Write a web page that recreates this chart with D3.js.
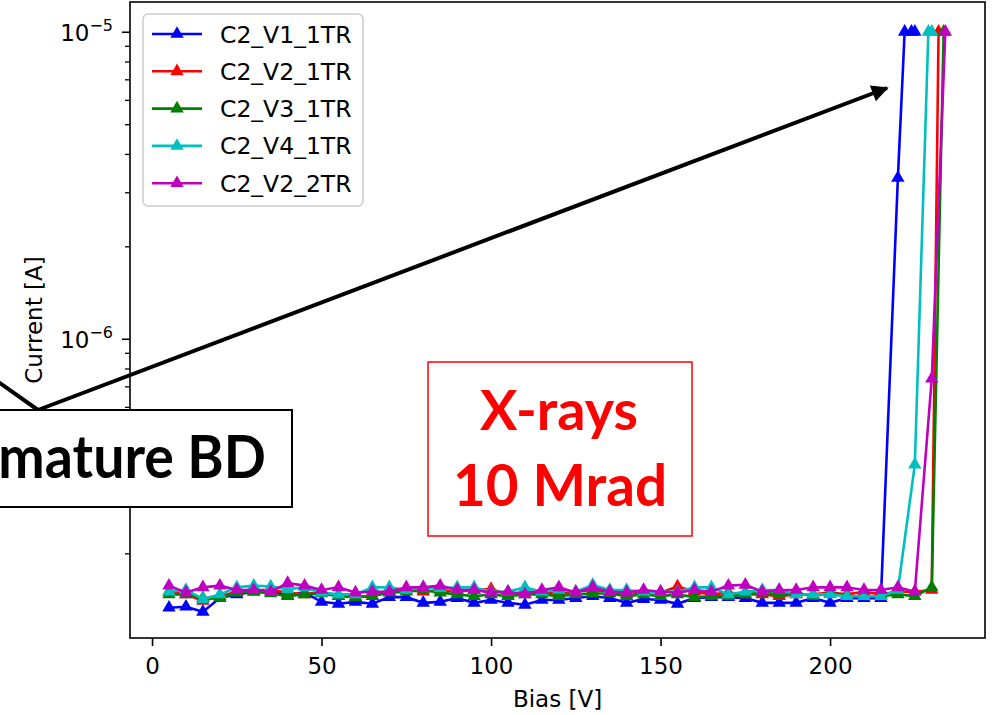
<!DOCTYPE html>
<html>
<head>
<meta charset="utf-8">
<script src="https://cdn.jsdelivr.net/npm/d3@7"></script>
<style>
  body { margin: 0; background: #fff; }
  svg { display: block; font-family: "DejaVu Sans", sans-serif; }
</style>
</head>
<body>
<svg id="svg" width="992" height="715"></svg>
<script>
// currents are in units of 1e-7 A
const UNIT = 1e-7;
const biasSteps = [5, 10, 15, 20, 25, 30, 35, 40, 45, 50, 55, 60, 65, 70, 75, 80, 85, 90, 95, 100,
  105, 110, 115, 120, 125, 130, 135, 140, 145, 150, 155, 160, 165, 170, 175, 180, 185, 190, 195, 200,
  205, 210, 215, 220, 225, 230];

const blueBias = biasSteps.slice(0, 44).concat([222, 224, 225]);
const blueCurrent = [1.33, 1.34, 1.29, 1.43, 1.47, 1.50, 1.52, 1.46, 1.49, 1.39,
  1.37, 1.39, 1.37, 1.44, 1.44, 1.38, 1.39, 1.43, 1.38, 1.41,
  1.38, 1.36, 1.41, 1.41, 1.43, 1.45, 1.43, 1.38, 1.42, 1.41,
  1.37, 1.43, 1.44, 1.44, 1.43, 1.38, 1.38, 1.38, 1.43, 1.38,
  1.43, 1.43, 1.43, 33.4, 100, 100, 100];

const redBias = biasSteps.concat([232]);
const redCurrent = [1.50, 1.47, 1.40, 1.45, 1.50, 1.52, 1.52, 1.49, 1.47, 1.50,
  1.45, 1.44, 1.45, 1.50, 1.52, 1.50, 1.52, 1.50, 1.52, 1.53,
  1.47, 1.50, 1.50, 1.47, 1.50, 1.52, 1.50, 1.47, 1.50, 1.49,
  1.56, 1.50, 1.47, 1.49, 1.47, 1.47, 1.45, 1.47, 1.47, 1.49,
  1.47, 1.50, 1.47, 1.50, 1.50, 1.52, 100];

const greenBias = biasSteps.concat([233.5]);
const greenCurrent = [1.47, 1.47, 1.43, 1.43, 1.49, 1.50, 1.48, 1.45, 1.47, 1.48,
  1.45, 1.44, 1.45, 1.49, 1.50, 1.52, 1.49, 1.47, 1.45, 1.47,
  1.45, 1.47, 1.47, 1.45, 1.47, 1.48, 1.48, 1.45, 1.47, 1.45,
  1.47, 1.44, 1.45, 1.45, 1.47, 1.49, 1.47, 1.49, 1.45, 1.49,
  1.45, 1.45, 1.45, 1.47, 1.45, 1.55, 100];

const cyanBias = biasSteps.slice(0, 45).concat([229, 230]);
const cyanCurrent = [1.50, 1.52, 1.42, 1.47, 1.55, 1.57, 1.56, 1.53, 1.55, 1.49,
  1.47, 1.47, 1.55, 1.55, 1.52, 1.55, 1.54, 1.55, 1.55, 1.50,
  1.50, 1.55, 1.50, 1.52, 1.50, 1.58, 1.52, 1.52, 1.50, 1.50,
  1.50, 1.55, 1.55, 1.47, 1.50, 1.52, 1.52, 1.47, 1.47, 1.47,
  1.45, 1.45, 1.45, 1.52, 3.89, 100, 100];

const magentaBias = biasSteps.concat([234]);
const magentaCurrent = [1.57, 1.49, 1.55, 1.57, 1.52, 1.52, 1.50, 1.60, 1.57, 1.52,
  1.55, 1.49, 1.50, 1.50, 1.55, 1.55, 1.57, 1.52, 1.52, 1.49,
  1.50, 1.47, 1.52, 1.55, 1.49, 1.55, 1.50, 1.49, 1.52, 1.50,
  1.49, 1.52, 1.50, 1.57, 1.58, 1.50, 1.52, 1.52, 1.55, 1.55,
  1.55, 1.52, 1.52, 1.55, 1.50, 7.41, 100];

const seriesNames = ["C2_V1_1TR", "C2_V2_1TR", "C2_V3_1TR", "C2_V4_1TR", "C2_V2_2TR"];
const seriesColors = ["#0000ff", "#ff0000", "#008000", "#00bfbf", "#bf00bf"];
const seriesBias = [blueBias, redBias, greenBias, cyanBias, magentaBias];
const seriesCurrent = [blueCurrent, redCurrent, greenCurrent, cyanCurrent, magentaCurrent];

const xTicks = [0, 50, 100, 150, 200];
const yMajorTicks = [1e-6, 1e-5];
const yMajorExp = ["\u22126", "\u22125"];
const yMinorTicks = [2e-7, 3e-7, 4e-7, 5e-7, 6e-7, 7e-7, 8e-7, 9e-7,
  2e-6, 3e-6, 4e-6, 5e-6, 6e-6, 7e-6, 8e-6, 9e-6];

const svg = d3.select("#svg");
const plotLeft = 130, plotRight = 985, plotTop = 2, plotBottom = 638;

const x = d3.scaleLinear().domain([-6.5, 245.7]).range([plotLeft, plotRight]);
const y = d3.scaleLog().domain([1.06e-7, 1.25e-5]).range([plotBottom, plotTop]);

const tickFont = 23;

// x axis
const xAxis = svg.append("g")
  .attr("transform", `translate(0, ${plotBottom})`)
  .call(d3.axisBottom(x).tickValues(xTicks).tickSize(8).tickPadding(12).tickFormat(d3.format("d")));
xAxis.select(".domain").remove();
xAxis.selectAll("line").attr("stroke", "#000").attr("stroke-width", 1.6);
xAxis.selectAll("text").attr("font-size", tickFont).attr("fill", "#000")
  .attr("font-family", "DejaVu Sans");

// y axis, major + minor
const yMinor = svg.append("g")
  .attr("transform", `translate(${plotLeft}, 0)`)
  .call(d3.axisLeft(y).tickValues(yMinorTicks).tickSize(5).tickFormat(""));
yMinor.select(".domain").remove();
yMinor.selectAll("line").attr("stroke", "#000").attr("stroke-width", 1.3);

const yMajor = svg.append("g")
  .attr("transform", `translate(${plotLeft}, 0)`)
  .call(d3.axisLeft(y).tickValues(yMajorTicks).tickSize(8).tickFormat(""));
yMajor.select(".domain").remove();
yMajor.selectAll("line").attr("stroke", "#000").attr("stroke-width", 1.6);
yMajor.selectAll(".tick").each(function(d, i) {
  const t = d3.select(this).append("text")
    .attr("x", -17)
    .attr("y", 9)
    .attr("text-anchor", "end")
    .attr("fill", "#000")
    .attr("font-family", "DejaVu Sans")
    .attr("font-size", tickFont);
  t.append("tspan").text("10");
  t.append("tspan").attr("dy", -10).attr("font-size", 16).text(yMajorExp[i]);
});

// data
const line = d3.line().x(d => x(d[0])).y(d => y(d[1] * UNIT));
const tri = d3.symbol().type(d3.symbolTriangle).size(78);

seriesNames.forEach((name, i) => {
  const pts = seriesBias[i].map((b, k) => [b, seriesCurrent[i][k]]);
  const g = svg.append("g");
  g.append("path")
    .datum(pts)
    .attr("d", line)
    .attr("fill", "none")
    .attr("stroke", seriesColors[i])
    .attr("stroke-width", 2.6);
  g.selectAll("path.m")
    .data(pts)
    .join("path")
    .attr("class", "m")
    .attr("d", tri)
    .attr("transform", d => `translate(${x(d[0])}, ${y(d[1] * UNIT)})`)
    .attr("fill", seriesColors[i]);
});

// frame
svg.append("rect")
  .attr("x", plotLeft).attr("y", plotTop)
  .attr("width", plotRight - plotLeft).attr("height", plotBottom - plotTop)
  .attr("fill", "none").attr("stroke", "#000").attr("stroke-width", 1.6);

// axis labels
svg.append("text")
  .attr("x", (plotLeft + plotRight) / 2).attr("y", 707)
  .attr("text-anchor", "middle")
  .attr("font-size", tickFont)
  .text("Bias [V]");
svg.append("text")
  .attr("transform", `translate(42, ${(plotTop + plotBottom) / 2}) rotate(-90)`)
  .attr("text-anchor", "middle")
  .attr("font-size", tickFont)
  .text("Current [A]");

// legend
const legend = svg.append("g");
legend.append("rect")
  .attr("x", 143).attr("y", 14).attr("width", 220).attr("height", 192)
  .attr("rx", 5)
  .attr("fill", "#fff").attr("fill-opacity", 0.8)
  .attr("stroke", "#cccccc").attr("stroke-width", 1.5);
seriesNames.forEach((name, i) => {
  const cy = 34 + i * 37.3;
  legend.append("line")
    .attr("x1", 152).attr("x2", 202).attr("y1", cy).attr("y2", cy)
    .attr("stroke", seriesColors[i]).attr("stroke-width", 2.6);
  legend.append("path")
    .attr("d", tri)
    .attr("transform", `translate(177, ${cy})`)
    .attr("fill", seriesColors[i]);
  legend.append("text")
    .attr("x", 220).attr("y", cy + 8.5)
    .attr("font-size", 23.5)
    .text(name);
});

// annotations
const defs = svg.append("defs");
defs.append("marker")
  .attr("id", "head")
  .attr("viewBox", "0 0 10 10")
  .attr("refX", 9).attr("refY", 5)
  .attr("markerWidth", 5).attr("markerHeight", 4.2)
  .attr("markerUnits", "strokeWidth")
  .attr("orient", "auto")
  .append("path").attr("d", "M0,0 L10,5 L0,10 z").attr("fill", "#000");

svg.append("line")
  .attr("x1", -10).attr("y1", 376).attr("x2", 38).attr("y2", 410)
  .attr("stroke", "#000").attr("stroke-width", 4);
svg.append("line")
  .attr("x1", 38).attr("y1", 410).attr("x2", 887).attr("y2", 88)
  .attr("stroke", "#000").attr("stroke-width", 4)
  .attr("marker-end", "url(#head)");

svg.append("rect")
  .attr("x", -10).attr("y", 410).attr("width", 302).attr("height", 97)
  .attr("fill", "#fff").attr("stroke", "#000").attr("stroke-width", 2);
svg.append("text")
  .attr("x", 266 - 351).attr("y", 478)
  .attr("font-family", "Lato, Liberation Sans, sans-serif")
  .attr("font-weight", "bold")
  .attr("font-size", 60)
  .attr("textLength", 351)
  .attr("lengthAdjust", "spacingAndGlyphs")
  .text("Premature BD");

svg.append("rect")
  .attr("x", 428).attr("y", 362).attr("width", 264).attr("height", 174)
  .attr("fill", "#fff").attr("stroke", "#ff0000").attr("stroke-width", 1.5);
svg.append("text")
  .attr("x", 480).attr("y", 430)
  .attr("fill", "#ff0000")
  .attr("font-family", "Lato, Liberation Sans, sans-serif")
  .attr("font-weight", "bold")
  .attr("font-size", 56)
  .attr("textLength", 158)
  .attr("lengthAdjust", "spacingAndGlyphs")
  .text("X-rays");
svg.append("text")
  .attr("x", 453).attr("y", 506)
  .attr("fill", "#ff0000")
  .attr("font-family", "Lato, Liberation Sans, sans-serif")
  .attr("font-weight", "bold")
  .attr("font-size", 57)
  .attr("textLength", 214)
  .attr("lengthAdjust", "spacingAndGlyphs")
  .text("10 Mrad");
</script>
</body>
</html>
